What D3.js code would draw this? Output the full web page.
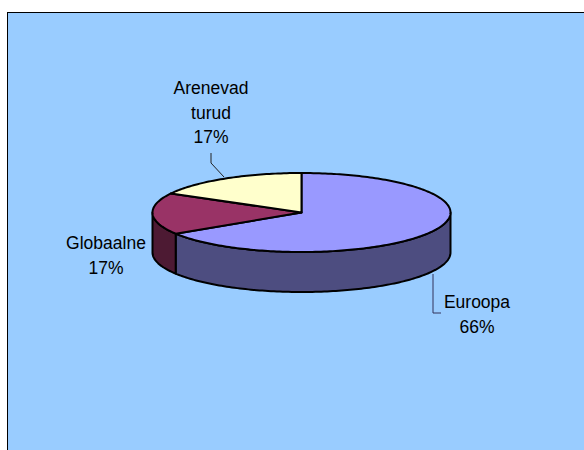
<!doctype html>
<html lang="en">
<head>
<meta charset="UTF-8">
<script src="https://cdn.jsdelivr.net/npm/d3@7"></script>
<style>
  html, body { margin: 0; padding: 0; background: #fff; }
  svg { display: block; }
  text { font-family: "Liberation Sans", Arial, sans-serif; font-size: 17.5px; fill: #000; text-anchor: middle; }
  .slice { stroke: #000; stroke-width: 2; stroke-linejoin: round; }
  .leader { fill: none; stroke-width: 1; }
</style>
</head>
<body>
<svg id="chart" width="584" height="450"></svg>
<script>
// data
const categories = ["Euroopa", "Globaalne", "Arenevad turud"];
const values = [66, 17, 17];
const labelLines = [["Euroopa", "66%"], ["Globaalne", "17%"], ["Arenevad", "turud", "17%"]];

// colours per slice
const topColors = ["#9999FF", "#993366", "#FFFFCC"];
const sideColors = ["#4D4D80", "#4D1A33", "#80806A"];

// layout
const cx = 301.5, cy = 212.5, rx = 149, ry = 39.5, depth = 40;
const labelPos = [[477, 308], [106, 249], [211, 94]];
const lineHeight = 24.5;
const leaders = [
  { color: "#33335A", pts: [[433, 274], [433, 313], [441, 313]] },
  { color: "#222222", pts: [[211, 153], [211, 163], [224, 177]] }
];

const svg = d3.select("#chart");

// frame runs off the right and bottom of the window
svg.append("rect")
  .attr("x", 7.5).attr("y", 12.5)
  .attr("width", 640).attr("height", 500)
  .attr("fill", "#99CCFF")
  .attr("stroke", "#000").attr("stroke-width", 1);

const xScale = d3.scaleLinear().domain([-1, 1]).range([cx - rx, cx + rx]);
const yScale = d3.scaleLinear().domain([-1, 1]).range([cy - ry, cy + ry]);

// angles are clockwise from 12 o'clock, like the original
const slices = d3.pie().sort(null)(values);
const lineGen = d3.line().x(d => d[0]).y(d => d[1]);

function rim(a0, a1, dy) {
  let pts = [];
  let n = Math.max(2, Math.ceil((a1 - a0) / 0.02));
  for (let i = 0; i <= n; i++) {
    let a = a0 + (a1 - a0) * i / n;
    pts.push([xScale(Math.sin(a)), yScale(-Math.cos(a)) + dy]);
  }
  return pts;
}

// side wall, only the front half of the rim shows
slices.forEach(function(s, i) {
  let a0 = Math.max(s.startAngle, Math.PI / 2);
  let a1 = Math.min(s.endAngle, Math.PI * 1.5);
  if (a1 <= a0) return;
  let pts = rim(a0, a1, 0).concat(rim(a0, a1, depth).reverse());
  svg.append("path")
    .attr("class", "slice")
    .attr("d", lineGen(pts) + "Z")
    .attr("fill", sideColors[i]);
});

// top face
slices.forEach(function(s, i) {
  let pts = [[xScale(0), yScale(0)]].concat(rim(s.startAngle, s.endAngle, 0));
  svg.append("path")
    .attr("class", "slice")
    .attr("d", lineGen(pts) + "Z")
    .attr("fill", topColors[i]);
});

// leader lines
leaders.forEach(function(l) {
  svg.append("path")
    .attr("class", "leader")
    .attr("d", lineGen(l.pts))
    .attr("stroke", l.color);
});

// labels
labelLines.forEach(function(lines, i) {
  let t = svg.append("text").attr("x", labelPos[i][0]).attr("y", labelPos[i][1]);
  lines.forEach(function(line, j) {
    t.append("tspan")
      .attr("x", labelPos[i][0])
      .attr("y", labelPos[i][1] + j * lineHeight)
      .text(line);
  });
});
</script>
</body>
</html>
